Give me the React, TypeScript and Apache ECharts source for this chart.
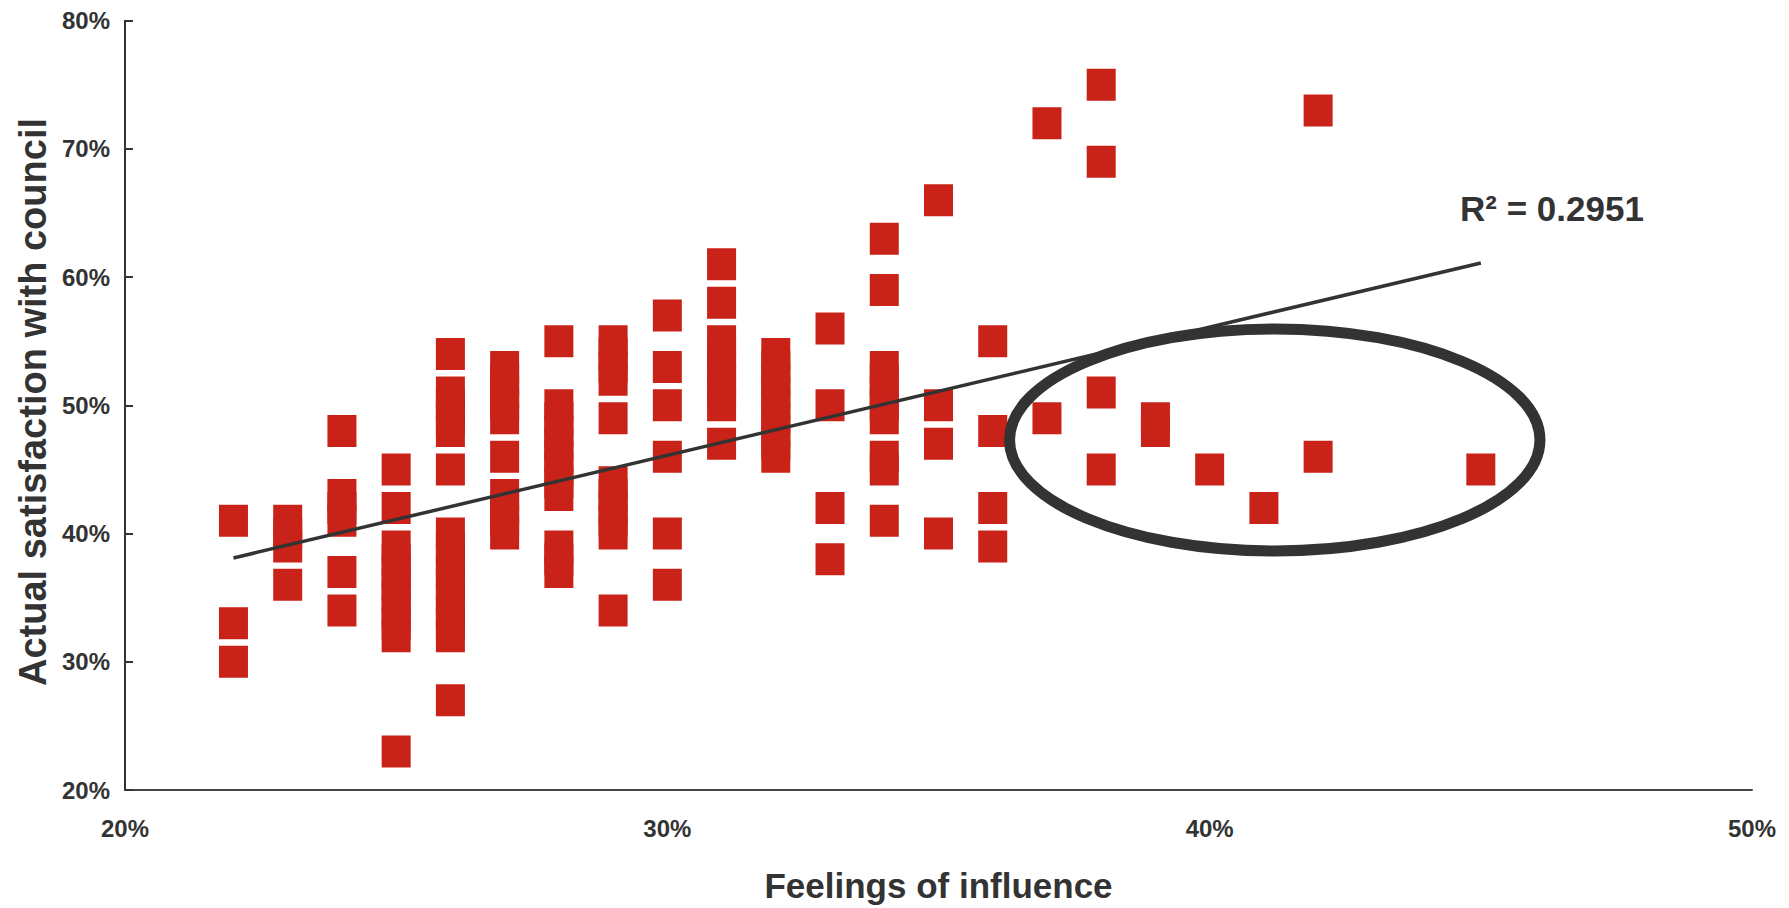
import React, { useEffect, useRef } from "react";
import * as echarts from "echarts";

// Feelings of influence (x, %) for each column of points
const influence = [22, 23, 24, 25, 26, 27, 28, 29, 30, 31, 32, 33, 34, 35, 36, 37, 38, 39, 40, 41, 42, 45];

// Actual satisfaction with council (y, %) for each column above
const satisfaction: number[][] = [
  [41, 33, 30],
  [41, 40, 39, 36],
  [48, 43, 42, 41, 37, 34],
  [45, 42, 39, 38, 37, 36, 35, 34, 33, 32, 23],
  [54, 51, 50, 49, 48, 45, 40, 39, 38, 37, 36, 35, 34, 33, 32, 27],
  [53, 52, 51, 50, 49, 46, 43, 42, 41, 40],
  [55, 50, 49, 48, 47, 46, 45, 44, 43, 39, 38, 37],
  [55, 54, 53, 52, 49, 44, 43, 42, 41, 40, 34],
  [57, 53, 50, 46, 40, 36],
  [61, 58, 55, 54, 53, 52, 51, 50, 47],
  [54, 53, 52, 51, 50, 49, 48, 47, 46],
  [56, 50, 42, 38],
  [63, 59, 53, 52, 51, 50, 49, 46, 45, 41],
  [66, 50, 47, 40],
  [55, 48, 42, 39],
  [72, 49],
  [75, 69, 51, 45],
  [49, 48],
  [45],
  [42],
  [73, 46],
  [45],
];

// Linear trend line end points (x %, y %)
const trendX = [22, 45];
const trendY = [38.1, 61.1];
const rSquaredLabel = "R² = 0.2951";

// Highlight ellipse in data units (centre and radii)
const ellipseCentre = [41.2, 47.3];
const ellipseRadii = [4.89, 8.66];

const xTicks = [20, 50, 10]; // min, max, interval
const yTicks = [20, 80, 10];

const FONT = "'Liberation Sans', Arial, sans-serif";
const TEXT = "#333333";

export default function App() {
  const ref = useRef<HTMLDivElement>(null);

  useEffect(() => {
    if (!ref.current) return;
    const chart = echarts.init(ref.current, undefined, { renderer: "svg" });

    const points: number[][] = [];
    influence.forEach((x, i) => {
      satisfaction[i].forEach((y) => points.push([x, y]));
    });

    chart.setOption({
      animation: false,
      backgroundColor: "#ffffff",
      grid: { left: 125, right: 37, top: 20.7, bottom: 118 },
      xAxis: {
        type: "value",
        min: xTicks[0],
        max: xTicks[1],
        interval: xTicks[2],
        name: "Feelings of influence",
        nameLocation: "middle",
        nameGap: 78,
        nameTextStyle: { fontSize: 35, fontWeight: "bold", color: TEXT, fontFamily: FONT },
        axisLine: { lineStyle: { color: "#444444", width: 2 } },
        axisTick: { show: false },
        splitLine: { show: false },
        axisLabel: {
          formatter: "{value}%",
          fontSize: 24,
          fontWeight: "bold",
          color: TEXT,
          fontFamily: FONT,
          margin: 26,
        },
      },
      yAxis: {
        type: "value",
        min: yTicks[0],
        max: yTicks[1],
        interval: yTicks[2],
        axisLine: { show: true, lineStyle: { color: "#333333", width: 2 } },
        axisTick: { show: true, inside: true, length: 8, lineStyle: { color: "#333333", width: 2 } },
        splitLine: { show: false },
        axisLabel: {
          formatter: "{value}%",
          fontSize: 24,
          fontWeight: "bold",
          color: TEXT,
          fontFamily: FONT,
          margin: 15,
        },
      },
      series: [
        {
          type: "scatter",
          data: points,
          symbol: "rect",
          symbolSize: [29, 32],
          itemStyle: { color: "#C92218", opacity: 1 },
          z: 2,
        },
        {
          type: "line",
          data: trendX.map((x, i) => [x, trendY[i]]),
          symbol: "none",
          lineStyle: { color: "#333333", width: 3.5 },
          z: 3,
        },
      ],
    });

    const c = chart.convertToPixel({ gridIndex: 0 }, ellipseCentre) as number[];
    const e = chart.convertToPixel({ gridIndex: 0 }, [
      ellipseCentre[0] + ellipseRadii[0],
      ellipseCentre[1] + ellipseRadii[1],
    ]) as number[];

    chart.setOption({
      graphic: [
        {
          type: "ellipse",
          shape: { cx: c[0], cy: c[1], rx: Math.abs(e[0] - c[0]), ry: Math.abs(e[1] - c[1]) },
          style: { fill: "none", stroke: "#333333", lineWidth: 11 },
          z: 10,
        },
        {
          type: "text",
          x: 1460,
          y: 208,
          style: {
            text: rSquaredLabel,
            fill: TEXT,
            font: `bold 35px ${FONT}`,
            align: "left",
            verticalAlign: "middle",
          },
          z: 10,
        },
        {
          type: "text",
          x: 32.7,
          y: 402,
          rotation: Math.PI / 2,
          style: {
            text: "Actual satisfaction with council",
            fill: TEXT,
            font: `bold 38px ${FONT}`,
            align: "center",
            verticalAlign: "middle",
          },
          z: 10,
        },
      ],
    });

    return () => chart.dispose();
  }, []);

  return (
    <div
      ref={ref}
      style={{ position: "fixed", left: 0, top: 0, width: 1789, height: 908, background: "#fff" }}
    />
  );
}
